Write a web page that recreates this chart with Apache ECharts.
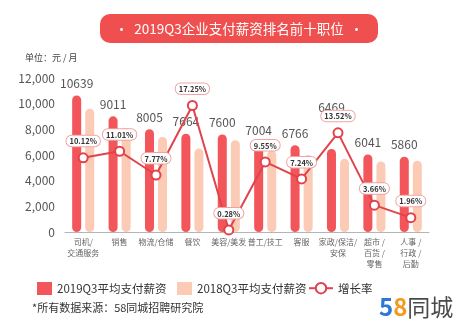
<!DOCTYPE html>
<html><head><meta charset="utf-8">
<script src="https://cdn.jsdelivr.net/npm/echarts@6/dist/echarts.min.js"></script>
<style>html,body{margin:0;padding:0;background:#fff}#c{width:474px;height:327px}</style>
</head><body><div id="c"></div>
<script>
var categories = ['司机/\n交通服务','销售','物流/仓储','餐饮','美容/美发','普工/技工','客服','家政/保洁/\n安保','超市 /\n百货 /\n零售','人事 /\n行政 /\n后勤'];
var salary2019 = [10639, 9011, 8005, 7664, 7600, 7004, 6766, 6469, 6041, 5860];
var salary2018 = [9600, 8100, 7400, 6500, 7150, 6350, 6000, 5700, 5500, 5550];
var growthRate = [10.12, 11.01, 7.77, 17.25, 0.28, 9.55, 7.24, 13.52, 3.66, 1.96];
var yTicks = [0, 2000, 4000, 6000, 8000, 10000, 12000];

var FONT = '"Noto Sans CJK SC", "Noto Sans", sans-serif';
var RED = '#f2555a', PEACH = '#fbcbb6', LINE = '#e0434b';

var chart = echarts.init(document.getElementById('c'));
var bar19 = salary2019.map(function (v, i) {
  var d = { value: v };
  if (i === 7) d.label = { distance: 36 };
  return d;
});
var legendText = { fontSize: 11.5, color: '#333', fontFamily: FONT };
chart.setOption({
  animation: false,
  textStyle: { fontFamily: FONT },
  grid: { left: 65, right: 45, top: 78, bottom: 95 },
  legend: [
    { left: 32, top: 277, icon: 'rect', itemWidth: 15, itemHeight: 13, data: ['2019Q3平均支付薪资'], textStyle: legendText },
    { left: 172, top: 277, icon: 'rect', itemWidth: 15, itemHeight: 13, data: ['2018Q3平均支付薪资'], textStyle: legendText },
    { left: 303, top: 277, itemWidth: 24, itemHeight: 13, data: ['增长率'], textStyle: legendText }
  ],
  xAxis: {
    type: 'category', data: categories,
    axisLine: { lineStyle: { color: '#b5b5b5', width: 1 } },
    axisTick: { show: false },
    axisLabel: { interval: 0, fontSize: 8, color: '#666', lineHeight: 11, margin: 4 }
  },
  yAxis: [
    { type: 'value', min: yTicks[0], max: yTicks[yTicks.length - 1], interval: 2000,
      axisLine: { show: false }, axisTick: { show: false }, splitLine: { show: false },
      axisLabel: { fontSize: 12, color: '#555', margin: 10 } },
    { type: 'value', min: 0, max: 21, show: false, splitLine: { show: false } }
  ],
  graphic: [
    { type: 'rect', left: 100, top: 14, shape: { width: 278, height: 29, r: 10 }, style: { fill: '#f04f4f' } },
    { type: 'text', x: 239, y: 29, style: { text: '•  2019Q3企业支付薪资排名前十职位  •', fill: '#fff', font: '13.5px ' + FONT, align: 'center', verticalAlign: 'middle' } },
    { type: 'text', x: 25, y: 58, style: { text: '单位：元 / 月', fill: '#444', font: '9px ' + FONT, verticalAlign: 'middle' } },
    { type: 'text', x: 32, y: 308, style: { text: '*所有数据来源：58同城招聘研究院', fill: '#333', font: '11px ' + FONT, verticalAlign: 'middle' } },
    { type: 'text', x: 379, y: 307, style: {
        text: '{a|5}{b|8}{c|同城}', verticalAlign: 'middle',
        rich: {
          a: { fill: '#2b78d6', font: 'bold 24px ' + FONT },
          b: { fill: '#f39a1e', font: 'bold 24px ' + FONT },
          c: { fill: '#4a4a4a', font: '23px ' + FONT }
        } } }
  ],
  series: [
    { name: '2019Q3平均支付薪资', type: 'bar', data: bar19, barWidth: 9, barGap: '45%',
      itemStyle: { color: RED, borderRadius: 4.5 },
      label: { show: true, position: 'top', distance: 6, fontSize: 12, color: '#555' } },
    { name: '2018Q3平均支付薪资', type: 'bar', data: salary2018, barWidth: 9,
      itemStyle: { color: PEACH, borderRadius: 4.5 } },
    { name: '增长率', type: 'line', yAxisIndex: 1, data: growthRate, z: 5,
      symbol: 'circle', symbolSize: 9,
      lineStyle: { color: LINE, width: 2 },
      itemStyle: { color: '#fff', borderColor: LINE, borderWidth: 2 },
      label: { show: true, position: 'top', distance: 6, formatter: function (p) { return p.value.toFixed(2) + '%'; },
        fontSize: 7.5, fontWeight: 'bold', color: '#333', backgroundColor: '#fff',
        borderColor: '#f0a3a3', borderWidth: 1, borderRadius: 5, padding: [2, 3, 1, 3] } }
  ]
});
</script></body></html>
